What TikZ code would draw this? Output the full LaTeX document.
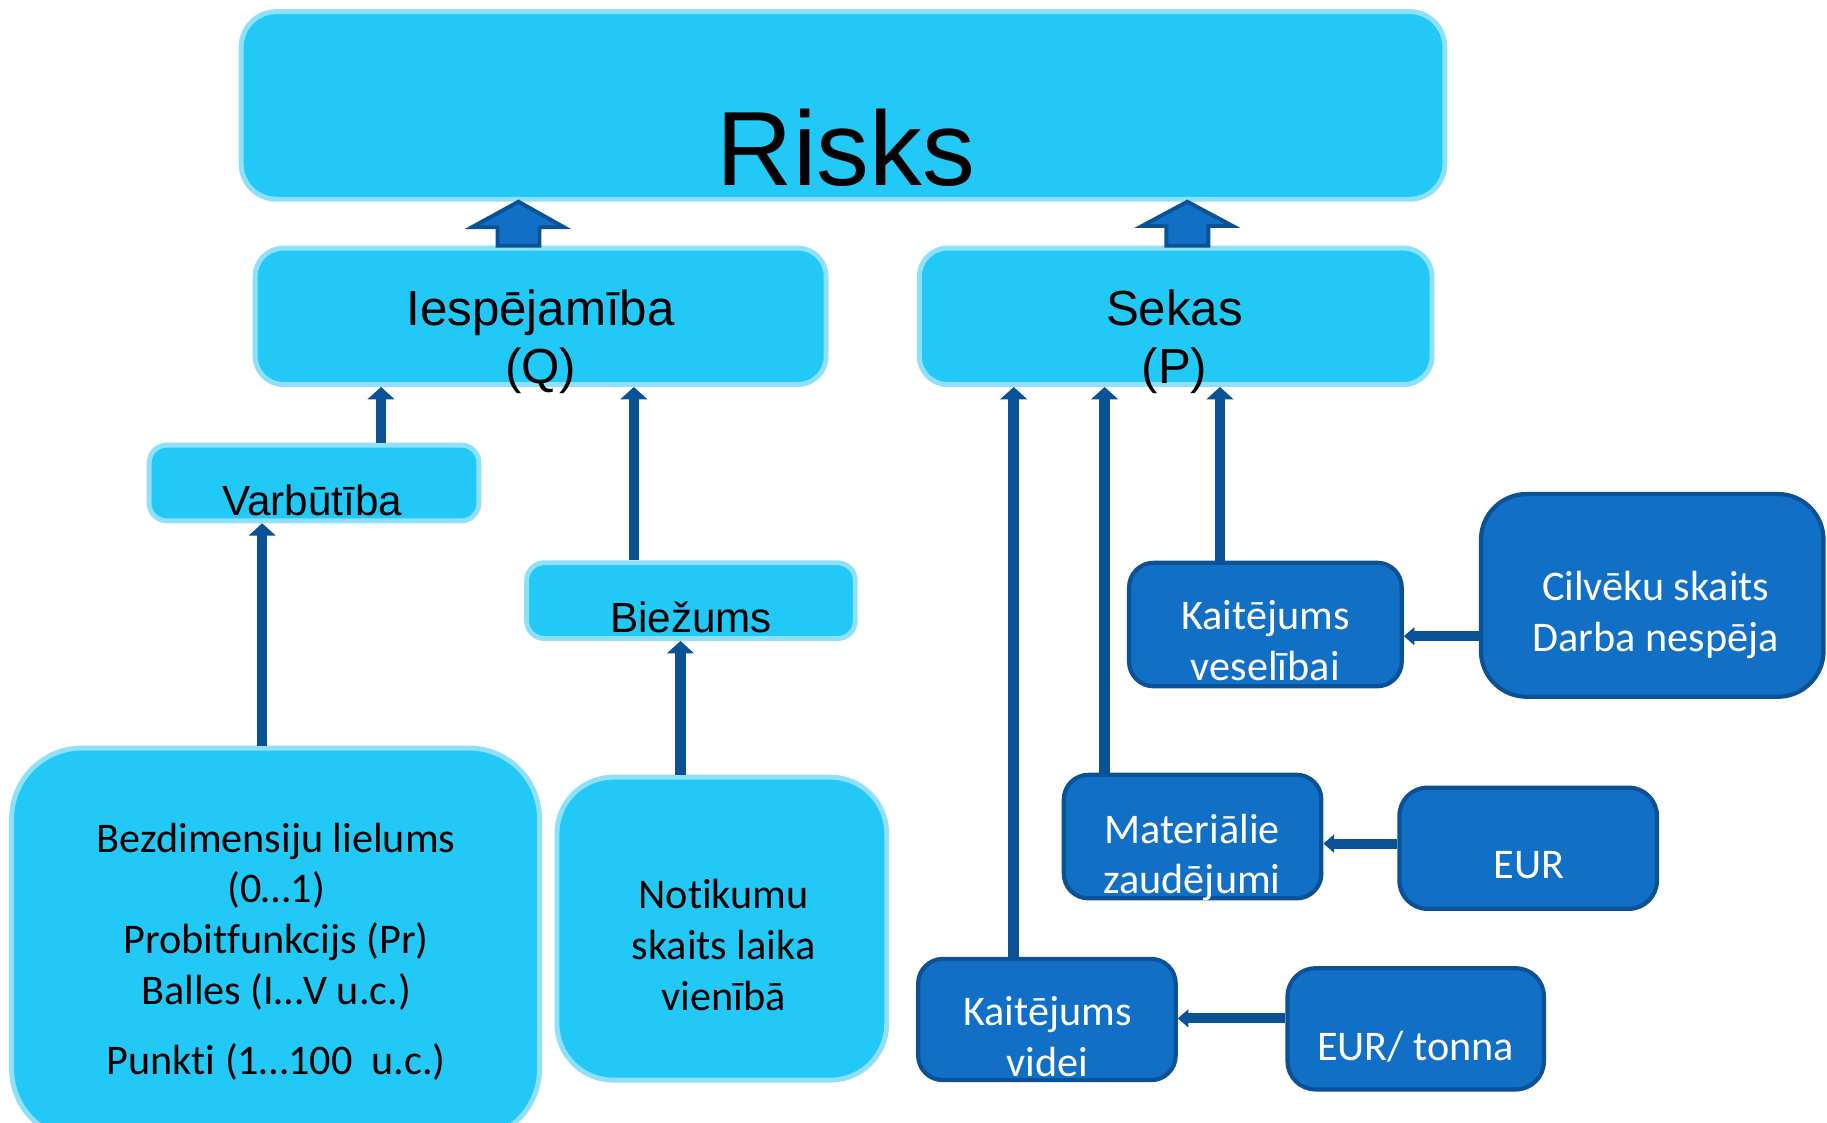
\documentclass[tikz,border=0pt]{standalone}
\usepackage{fontspec}
\setmainfont{Carlito}[Ligatures={NoCommon}]
\newfontfamily\arialfont{Liberation Sans}
\usetikzlibrary{arrows.meta,fit}
\definecolor{lightfill}{HTML}{22C8F6}
\definecolor{lightline}{HTML}{8EE0FB}
\definecolor{darkfill}{HTML}{1170C6}
\definecolor{darkline}{HTML}{0A5196}
\tikzset{
  lightbox/.style={draw=lightline, fill=lightfill, line width=1.4pt, rounded corners=8pt, inner sep=0pt},
  darkbox/.style={draw=darkline, fill=darkfill, line width=1.2pt, rounded corners=7pt, inner sep=0pt},
  headtxt/.style={font=\arialfont\fontsize{14}{16.5}\selectfont, align=center, anchor=base},
  smalltxt/.style={font=\arialfont\fontsize{12}{14}\selectfont, anchor=base},
  bodytxt/.style={font=\fontsize{12}{14.4}\selectfont, align=center, anchor=base},
  whitetxt/.style={bodytxt, text=white},
  uparr/.style={draw=darkline, line width=3pt, -{Triangle[width=7.5pt,length=3.5pt]}},
  sidearr/.style={draw=darkline, line width=2.8pt, -{Triangle[width=5pt,length=3pt]}},
  bigarr/.style={draw=darkline, fill=darkfill, line width=1.1pt, line join=miter}
}
\begin{document}
\begin{tikzpicture}[x=0.01165cm, y=-0.01165cm]
\useasboundingbox (0,0) rectangle (1568,963);
% top
\node[lightbox, rounded corners=10pt, fit={(207,10) (1240,171)}] (risks) {};
\node[font=\arialfont\fontsize{30}{34}\selectfont, anchor=base] (riskst) at (726,159) {Risks};
\node[lightbox, fit={(219,213) (709,330)}] (iesp) {};
\node[headtxt] (iespt) at (464,329) {Iespējamība\\(Q)};
\node[lightbox, fit={(789,213) (1229,330)}] (sekas) {};
\node[headtxt] (sekast) at (1008,329) {Sekas\\(P)};
\draw[bigarr] (427,0 |- iesp.north) -- (427,195) -- (405,195) -- (445,0 |- risks.south) -- (484,195) -- (463,195) -- (463,0 |- iesp.north) -- cycle;
\draw[bigarr] (1001,0 |- sekas.north) -- (1001,194) -- (980,194) -- (1019,0 |- risks.south) -- (1058,194) -- (1037,194) -- (1037,0 |- sekas.north) -- cycle;
% left
\node[lightbox, rounded corners=5pt, fit={(128,382) (411,447)}] (varb) {};
\node[smalltxt] (varbt) at (268,442) {Varbūtība};
\node[lightbox, rounded corners=5pt, fit={(452,483) (734,548)}] (biez) {};
\node[smalltxt] (biezt) at (593,543) {Biežums};
\node[lightbox, rounded corners=20pt, fit={(10,642) (463,978)}] (bezd) {};
\node[bodytxt] (bezdt) at (237,922) {Bezdimensiju lielums\\(0…1)\\Probitfunkcijs (Pr)\\Balles (I…V u.c.)\\[5.5pt]Punkti (1…100\ \ u.c.)};
\node[lightbox, rounded corners=16pt, fit={(478,667) (761,927)}] (noti) {};
\node[bodytxt] (notit) at (621,867) {Notikumu\\skaits laika\\vienībā};
\draw[uparr] (327,0 |- varb.north) -- (327,0 |- iesp.south);
\draw[uparr] (225,0 |- bezd.north) -- (225,0 |- varb.south);
\draw[uparr] (544,0 |- biez.north) -- (544,0 |- iesp.south);
\draw[uparr] (584,0 |- noti.north) -- (584,0 |- biez.south);
% right
\node[darkbox, fit={(969,483) (1203,589)}] (kves) {};
\node[whitetxt] (kvest) at (1086,584) {Kaitējums\\veselībai};
\node[darkbox, rounded corners=13pt, fit={(1271,424) (1565,598)}] (cilv) {};
\node[whitetxt] (cilvt) at (1421,559) {Cilvēku skaits\\Darba nespēja};
\node[darkbox, fit={(913,665) (1134,771)}] (mat) {};
\node[whitetxt] (matt) at (1023,767) {Materiālie\\zaudējumi};
\node[darkbox, rounded corners=8pt, fit={(1201,676) (1422,780)}] (eur) {};
\node[whitetxt] (eurtxt) at (1312,754) {EUR};
\node[darkbox, fit={(788,823) (1009,927)}] (kvid) {};
\node[whitetxt] (kvidt) at (899,924) {Kaitējums\\videi};
\node[darkbox, rounded corners=8pt, fit={(1105,831) (1325,935)}] (eurt) {};
\node[whitetxt] (eurtt) at (1215,910) {EUR/ tonna};
\draw[uparr] (870,0 |- kvid.north) -- (870,0 |- sekas.south);
\draw[uparr] (948,0 |- mat.north) -- (948,0 |- sekas.south);
\draw[uparr] (1047,0 |- kves.north) -- (1047,0 |- sekas.south);
\draw[sidearr] (cilv.west |- 0,546) -- (kves.east |- 0,546);
\draw[sidearr] (eur.west |- 0,724) -- (mat.east |- 0,724);
\draw[sidearr] (eurt.west |- 0,874) -- (kvid.east |- 0,874);
\end{tikzpicture}
\end{document}
